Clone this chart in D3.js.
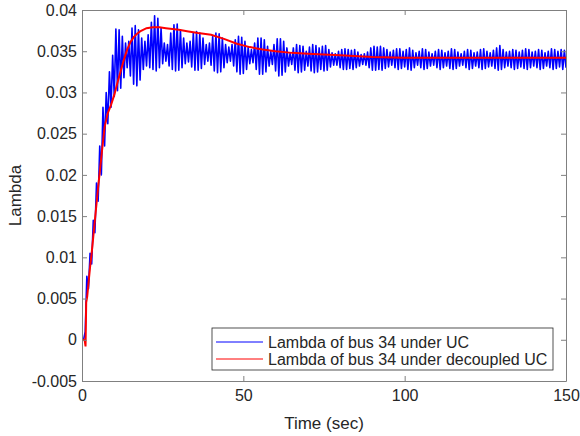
<!DOCTYPE html>
<html>
<head>
<meta charset="utf-8">
<script src="https://cdn.jsdelivr.net/npm/d3@7"></script>
<style>
  body { margin: 0; background: #fff; }
  text { font-family: "Liberation Sans", Arial, sans-serif; fill: #262626; }
</style>
</head>
<body>
<script>
// ticks
const xTicks = [0, 50, 100, 150];
const yTicks = [-0.005, 0, 0.005, 0.01, 0.015, 0.02, 0.025, 0.03, 0.035, 0.04];
const yTickLabels = ['-0.005', '0', '0.005', '0.01', '0.015', '0.02', '0.025', '0.03', '0.035', '0.04'];

// blue series: samples every 0.5 s starting at t = 0.5 (peaks / troughs)
const blueStart = 0.5;
const blueStep = 0.5;
const blueValues = [
  0.0000, 0.0010, 0.0077, 0.0062, 0.0105, 0.0092, 0.0145, 0.0130, 0.0190, 0.0168,
  0.0235, 0.0200, 0.0282, 0.0235, 0.0300, 0.0262, 0.0325, 0.0282, 0.0345, 0.0295,
  0.0377, 0.0302, 0.0376, 0.0305, 0.0368, 0.0318, 0.0360, 0.0330, 0.0362, 0.0320,
  0.0378, 0.0310, 0.0381, 0.0308, 0.0376, 0.0315, 0.0366, 0.0328, 0.0362, 0.0332,
  0.0370, 0.0330, 0.0385, 0.0328, 0.0393, 0.0326, 0.0390, 0.0330, 0.0378, 0.0335,
  0.0360, 0.0338, 0.0358, 0.0332, 0.0372, 0.0328, 0.0382, 0.0326, 0.0383, 0.0327,
  0.0376, 0.0330, 0.0366, 0.0335, 0.0360, 0.0337, 0.0362, 0.0331, 0.0372, 0.0327,
  0.0374, 0.0327, 0.0372, 0.0329, 0.0366, 0.0334, 0.0358, 0.0338, 0.0360, 0.0333,
  0.0368, 0.0326, 0.0372, 0.0324, 0.0371, 0.0325, 0.0366, 0.0330, 0.0358, 0.0336,
  0.0355, 0.0338, 0.0358, 0.0332, 0.0364, 0.0325, 0.0368, 0.0322, 0.0367, 0.0323,
  0.0362, 0.0328, 0.0355, 0.0335, 0.0352, 0.0336, 0.0360, 0.0328, 0.0366, 0.0322,
  0.0366, 0.0322, 0.0364, 0.0325, 0.0356, 0.0332, 0.0350, 0.0334, 0.0358, 0.0326,
  0.0365, 0.0320, 0.0365, 0.0321, 0.0362, 0.0325, 0.0354, 0.0332, 0.0348, 0.0334,
  0.0354, 0.0327, 0.0358, 0.0324, 0.0357, 0.0325, 0.0356, 0.0327, 0.0350, 0.0332,
  0.0355, 0.0326, 0.0358, 0.0324, 0.0357, 0.0325, 0.0354, 0.0328, 0.0356, 0.0326,
  0.0357, 0.0327, 0.0352, 0.0331, 0.0348, 0.0333, 0.0347, 0.0333, 0.0350, 0.0330,
  0.0352, 0.0328, 0.0353, 0.0328, 0.0352, 0.0329, 0.0351, 0.0328, 0.0352, 0.0330,
  0.0349, 0.0332, 0.0346, 0.0334, 0.0347, 0.0333, 0.0349, 0.0330, 0.0354, 0.0327,
  0.0356, 0.0327, 0.0355, 0.0328, 0.0356, 0.0327, 0.0354, 0.0329, 0.0352, 0.0331,
  0.0349, 0.0333, 0.0351, 0.0330, 0.0353, 0.0328, 0.0353, 0.0329, 0.0350, 0.0331,
  0.0352, 0.0328, 0.0354, 0.0327, 0.0351, 0.0330, 0.0348, 0.0333, 0.0350, 0.0330,
  0.0353, 0.0328, 0.0352, 0.0329, 0.0349, 0.0332, 0.0347, 0.0333, 0.0350, 0.0330,
  0.0352, 0.0328, 0.0351, 0.0330, 0.0348, 0.0332, 0.0350, 0.0329, 0.0353, 0.0328,
  0.0352, 0.0329, 0.0349, 0.0332, 0.0347, 0.0333, 0.0350, 0.0330, 0.0352, 0.0328,
  0.0351, 0.0329, 0.0348, 0.0332, 0.0349, 0.0330, 0.0352, 0.0328, 0.0353, 0.0329,
  0.0350, 0.0331, 0.0348, 0.0332, 0.0351, 0.0329, 0.0354, 0.0327, 0.0357, 0.0328,
  0.0352, 0.0330, 0.0349, 0.0332, 0.0350, 0.0330, 0.0352, 0.0328, 0.0351, 0.0329,
  0.0349, 0.0331, 0.0351, 0.0329, 0.0353, 0.0328, 0.0352, 0.0330, 0.0349, 0.0332,
  0.0350, 0.0330, 0.0352, 0.0328, 0.0351, 0.0329, 0.0348, 0.0332, 0.0350, 0.0330,
  0.0353, 0.0328, 0.0352, 0.0329, 0.0350, 0.0331, 0.0352, 0.0328, 0.0351, 0.0330
];

// red series (decoupled UC)
const redTime = [0, 0.8, 1.1, 1.3, 1.6, 2, 2.5, 3, 3.5, 4, 4.5, 5, 5.5, 6, 7, 8, 9, 10, 11, 12,
  13, 14, 15, 16, 17, 18, 20, 22, 24, 26, 28, 30, 33, 36, 40, 44, 48, 52, 56, 60,
  65, 70, 80, 90, 100, 120, 150];
const redValues = [0, 0, -0.0008, 0.0045, 0.0052, 0.0068, 0.0088, 0.0105, 0.0125, 0.0145, 0.0165, 0.0185, 0.0203, 0.0222, 0.0258, 0.0275, 0.0285, 0.0297, 0.0312, 0.0326,
  0.0340, 0.0352, 0.0361, 0.0367, 0.0371, 0.0374, 0.0378, 0.0379, 0.0379, 0.0378, 0.0377, 0.0376, 0.0374, 0.0372, 0.0370, 0.0365, 0.0359, 0.0355, 0.0352, 0.0350,
  0.0348, 0.0347, 0.0345, 0.0343, 0.0342, 0.0342, 0.0342];

const seriesNames = ['Lambda of bus 34 under UC', 'Lambda of bus 34 under decoupled UC'];
const seriesColors = ['#0000ff', '#ff0000'];

const W = 580, H = 436;
const mLeft = 82, mRight = 566, mTop = 10, mBottom = 381;

const svg = d3.select('body').append('svg')
  .attr('width', W)
  .attr('height', H);

const x = d3.scaleLinear().domain([0, 150]).range([mLeft, mRight]);
const y = d3.scaleLinear().domain([-0.005, 0.04]).range([mBottom, mTop]);

svg.append('defs').append('clipPath').attr('id', 'plot')
  .append('rect')
  .attr('x', mLeft).attr('y', mTop)
  .attr('width', mRight - mLeft).attr('height', mBottom - mTop);

// lines
const blueData = blueValues.map((v, i) => [blueStart + i * blueStep, v]);
const redData = redValues.map((v, i) => [redTime[i], v]);

const line = d3.line()
  .x(d => x(d[0]))
  .y(d => y(d[1]));

const g = svg.append('g').attr('clip-path', 'url(#plot)');
g.append('path')
  .datum(blueData)
  .attr('fill', 'none')
  .attr('stroke', seriesColors[0])
  .attr('stroke-width', 1.6)
  .attr('stroke-linejoin', 'round')
  .attr('d', line);
g.append('path')
  .datum(redData)
  .attr('fill', 'none')
  .attr('stroke', seriesColors[1])
  .attr('stroke-width', 2)
  .attr('d', line);

// axes
const axisColor = '#808080';
function styleAxis(sel) {
  sel.selectAll('path').attr('stroke', axisColor);
  sel.selectAll('line').attr('stroke', axisColor);
  sel.selectAll('text').attr('fill', '#262626')
    .style('font-size', '16px')
    .style('font-family', '"Liberation Sans", Arial, sans-serif');
}

svg.append('g')
  .attr('transform', `translate(0,${mBottom})`)
  .call(d3.axisBottom(x).tickValues(xTicks).tickSizeInner(-5).tickSizeOuter(0).tickPadding(9))
  .call(styleAxis);
svg.append('g')
  .attr('transform', `translate(0,${mTop})`)
  .call(d3.axisTop(x).tickValues(xTicks).tickSizeInner(-5).tickSizeOuter(0).tickFormat(''))
  .call(styleAxis);
svg.append('g')
  .attr('transform', `translate(${mLeft},0)`)
  .call(d3.axisLeft(y).tickValues(yTicks).tickSizeInner(-5).tickSizeOuter(0).tickPadding(5)
    .tickFormat((d, i) => yTickLabels[i]))
  .call(styleAxis);
svg.append('g')
  .attr('transform', `translate(${mRight},0)`)
  .call(d3.axisRight(y).tickValues(yTicks).tickSizeInner(-5).tickSizeOuter(0).tickFormat(''))
  .call(styleAxis);

// axis labels
svg.append('text')
  .attr('x', (mLeft + mRight) / 2)
  .attr('y', 429)
  .attr('text-anchor', 'middle')
  .style('font-size', '17px')
  .text('Time (sec)');
svg.append('text')
  .attr('transform', `translate(21,${(mTop + mBottom) / 2}) rotate(-90)`)
  .attr('text-anchor', 'middle')
  .style('font-size', '17px')
  .text('Lambda');

// legend
const lg = svg.append('g').attr('transform', 'translate(212,328)');
lg.append('rect')
  .attr('width', 341).attr('height', 42)
  .attr('fill', '#fff')
  .attr('stroke', '#262626')
  .attr('stroke-width', 0.8);
seriesNames.forEach((name, i) => {
  const cy = 14 + i * 17;
  lg.append('line')
    .attr('x1', 4).attr('x2', 51)
    .attr('y1', cy).attr('y2', cy)
    .attr('stroke', seriesColors[i])
    .attr('stroke-width', 1);
  lg.append('text')
    .attr('x', 56).attr('y', cy)
    .attr('dy', '0.35em')
    .style('font-size', '16px')
    .text(name);
});
</script>
</body>
</html>
